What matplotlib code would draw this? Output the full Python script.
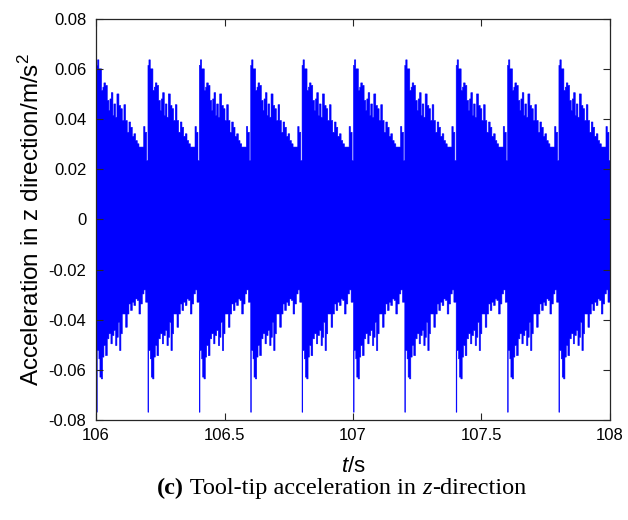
import numpy as np
import matplotlib
matplotlib.use("Agg")
import matplotlib.pyplot as plt
from matplotlib.offsetbox import TextArea, HPacker, AnnotationBbox

plt.rcParams['font.family'] = ['Liberation Sans', 'DejaVu Sans']
plt.rcParams['mathtext.fontset'] = 'custom'
plt.rcParams['mathtext.rm'] = 'Liberation Sans'
plt.rcParams['mathtext.it'] = 'Liberation Sans:italic'
plt.rcParams['mathtext.bf'] = 'Liberation Sans:bold'

# one spindle revolution = 0.2 s, the envelope repeats every revolution
period_starts = [106.0, 106.2, 106.4, 106.6, 106.8, 107.0, 107.2, 107.4, 107.6, 107.8]
period_len = 0.2

# upper envelope of the acceleration over one revolution (phase 0..1)
up_phase = [0.0, 0.019, 0.045, 0.097, 0.123, 0.143, 0.175, 0.208, 0.240, 0.260,
            0.286, 0.318, 0.338, 0.370, 0.396, 0.435, 0.468, 0.500, 0.532, 0.565,
            0.597, 0.630, 0.662, 0.695, 0.727, 0.760, 0.792, 0.825, 0.916, 0.942,
            0.974]
up_vals = [0.0617, 0.0639, 0.0603, 0.0517, 0.053, 0.0547, 0.0537, 0.0477, 0.0437, 0.0483,
           0.0508, 0.0417, 0.0463, 0.041, 0.0503, 0.0457, 0.0444, 0.0397, 0.046, 0.0397,
           0.035, 0.0391, 0.037, 0.0334, 0.0344, 0.0317, 0.0304, 0.0291, 0.0373, 0.035,
           0.0237]

# lower envelope over one revolution
lo_phase = [0.0, 0.013, 0.045, 0.065, 0.091, 0.117, 0.143, 0.175, 0.208, 0.240,
            0.279, 0.305, 0.338, 0.370, 0.396, 0.422, 0.448, 0.474, 0.500, 0.565,
            0.597, 0.630, 0.662, 0.695, 0.727, 0.760, 0.792, 0.825, 0.857, 0.890,
            0.922, 0.955]
lo_vals = [-0.0767, -0.0521, -0.0554, -0.0627, -0.0634, -0.0547, -0.0501, -0.0541, -0.0474, -0.0454,
           -0.0494, -0.0461, -0.0441, -0.0501, -0.0468, -0.0408, -0.0521, -0.0454, -0.0375, -0.0428,
           -0.0375, -0.0335, -0.0361, -0.0328, -0.0341, -0.0315, -0.0321, -0.0375, -0.0335, -0.0295,
           -0.0279, -0.0328]


def envelope(phase, vals):
    t, v = [], []
    for s in period_starts:
        t.extend(s + np.array(phase) * period_len)
        v.extend(vals)
    t.append(period_starts[-1] + period_len)
    v.append(vals[-1])
    return np.array(t), np.array(v)


t_up, a_up = envelope(up_phase, up_vals)
t_lo, a_lo = envelope(lo_phase, lo_vals)

fig = plt.figure(figsize=(6.28, 5.2), dpi=100)
ax = fig.add_axes([0.153, 0.1923, 0.818, 0.7712])

blue = (0, 0, 1)
ax.fill_between(t_up, 0, a_up, step='post', color=blue, lw=0.4)
ax.fill_between(t_lo, a_lo, 0, step='post', color=blue, lw=0.4)

ax.set_xlim(106, 108)
ax.set_ylim(-0.08, 0.08)
ax.set_xticks([106, 106.5, 107, 107.5, 108])
ax.set_xticklabels(['106', '106.5', '107', '107.5', '108'])
ax.set_yticks(np.arange(-0.08, 0.081, 0.02))
ax.set_yticklabels(['-0.08', '-0.06', '-0.04', '-0.02', '0', '0.02', '0.04', '0.06', '0.08'])

ax.tick_params(direction='in', length=5, width=0.8, color='#262626',
               labelsize=12, top=True, right=True)
ax.tick_params(axis='y', pad=7)
ax.tick_params(axis='x', pad=6)
for sp in ax.spines.values():
    sp.set_linewidth(0.9)
    sp.set_color('#262626')

ax.set_xlabel('$t$/s', fontsize=16, labelpad=9)
ax.set_ylabel('Acceleration in z direction/m/s$^2$', fontsize=17.5, labelpad=3)

# caption in serif, mixed weights
serif = 'Liberation Serif'
cap_size = 17.5
parts = [
    TextArea('(c)', textprops=dict(family=serif, weight='bold', size=cap_size)),
    TextArea(' Tool-tip acceleration in ', textprops=dict(family=serif, size=cap_size)),
    TextArea('z', textprops=dict(family=serif, style='italic', size=cap_size)),
    TextArea('-direction', textprops=dict(family=serif, size=cap_size)),
]
caption = HPacker(children=parts, align='baseline', pad=0, sep=0)
fig.add_artist(AnnotationBbox(caption, (0.544, 0.06), xycoords='figure fraction',
                              frameon=False, box_alignment=(0.5, 0.5)))

fig.savefig('out.png', dpi=100)
